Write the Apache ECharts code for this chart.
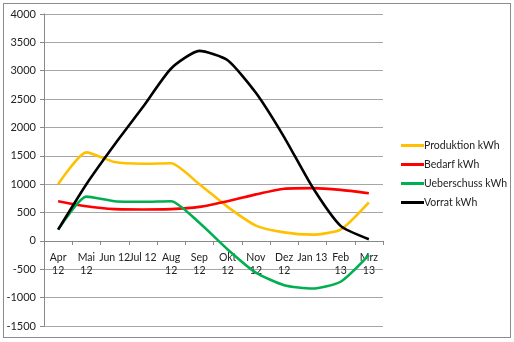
<!DOCTYPE html>
<html><head><meta charset="utf-8">
<script src="https://cdn.jsdelivr.net/npm/echarts@6/dist/echarts.min.js"></script>
<style>html,body{margin:0;padding:0;background:#fff}#c{width:514px;height:342px}
#frame{position:absolute;left:3px;top:3px;width:506px;height:333px;border:1px solid #8c8c8c;pointer-events:none}</style>
</head><body><div id="c"></div><div id="frame"></div>
<script>
const categories = ["Apr 12","Mai 12","Jun 12","Jul 12","Aug 12","Sep 12","Okt 12","Nov 12","Dez 12","Jan 13","Feb 13","Mrz 13"];
const categoryLabels = ["Apr\n12","Mai\n12","Jun 12","Jul 12","Aug\n12","Sep\n12","Okt\n12","Nov\n12","Dez\n12","Jan 13","Feb\n13","Mrz\n13"];
const produktion = [1000,1560,1390,1360,1370,1000,600,270,150,110,200,680];
const bedarf = [700,610,560,555,560,600,700,820,920,930,900,840];
const ueberschuss = [200,780,700,690,700,320,-150,-560,-780,-840,-720,-250];
const vorrat = [200,1000,1700,2360,3040,3350,3185,2610,1830,950,265,30];
const seriesNames = ["Produktion kWh","Bedarf kWh","Ueberschuss kWh","Vorrat kWh"];
const colors = ["#FFC000","#FF0000","#00B050","#000000"];
const font = "Lato, 'Liberation Sans', sans-serif";
const chart = echarts.init(document.getElementById('c'));
const mk = (name, data, color) => ({name, type:'line', data, smooth:0.2, symbol:'none',
  lineStyle:{width:2.6,color}, itemStyle:{color}});
chart.setOption({
  animation:false,
  grid:{left:44,right:131,top:14,bottom:16,outerBoundsMode:'none',containLabel:false},
  legend:{orient:'vertical',left:396,top:135,itemGap:8,itemWidth:23,itemHeight:3,icon:'rect',
    textStyle:{fontFamily:font,fontSize:10.5,color:'#222',padding:[0,0,0,-5]},
    data:seriesNames},
  xAxis:{type:'category',data:categories,boundaryGap:true,
    axisLine:{onZero:true,lineStyle:{color:'#888'}},
    axisTick:{show:true,length:4,lineStyle:{color:'#888'}},
    axisLabel:{interval:0,fontFamily:font,fontSize:10.5,color:'#222',lineHeight:13,margin:-75,
      formatter:(v,i)=>categoryLabels[i]}},
  yAxis:{type:'value',min:-1500,max:4000,interval:500,
    axisLine:{show:true,lineStyle:{color:'#888'}},
    axisTick:{show:true,length:4,lineStyle:{color:'#888'}},
    splitLine:{lineStyle:{color:'#a6a6a6',width:1}},
    axisLabel:{fontFamily:font,fontSize:11,color:'#222',margin:8,formatter:v=>String(v)}},
  series:[mk(seriesNames[0],produktion,colors[0]),mk(seriesNames[1],bedarf,colors[1]),
          mk(seriesNames[2],ueberschuss,colors[2]),mk(seriesNames[3],vorrat,colors[3])]
});
</script></body></html>
